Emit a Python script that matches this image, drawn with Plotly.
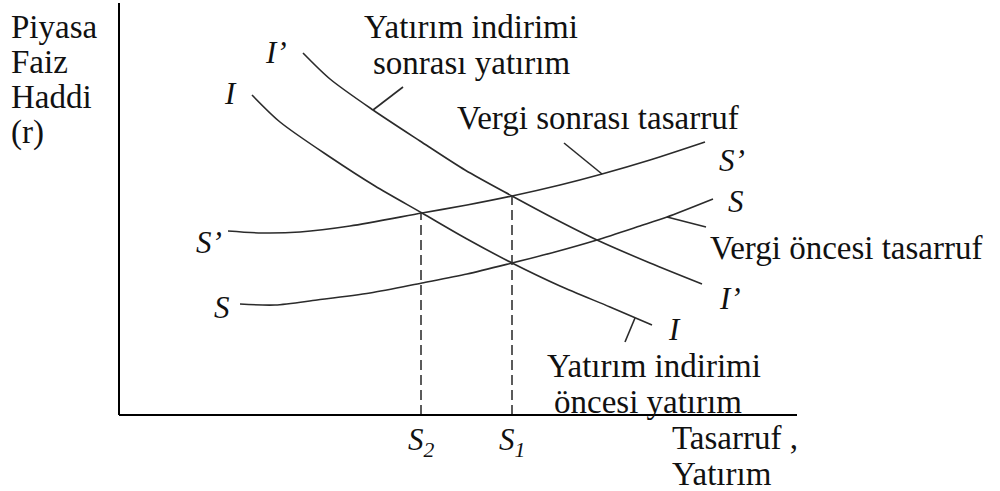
import plotly.graph_objects as go

# Curves of the saving-investment diagram (quantity on x, interest rate on y)
i_x = [133, 161, 211, 256, 303, 348, 393, 441, 491, 533]
i_y = [320, 293, 258, 229, 202, 176, 152, 129, 108, 90]

i2_x = [184, 211, 254, 301, 346, 393, 436, 478, 531, 583]
i2_y = [362, 336, 305, 274, 245, 219, 196, 175, 152, 131]

s2_x = [109, 143, 181, 231, 303, 348, 393, 441, 483, 531, 586]
s2_y = [184, 182, 183, 189, 202, 210, 219, 230, 241, 255, 273]

s_x = [121, 156, 198, 251, 303, 348, 393, 436, 478, 521, 548, 594]
s_y = [111, 110, 115, 122, 132, 141, 152, 163, 175, 189, 198, 216]

# Short pointer strokes linking captions to curves
lead_ip_x, lead_ip_y = [254, 284], [305, 328]
lead_sp_x, lead_sp_y = [483, 445], [241, 272]
lead_s_x, lead_s_y = [548, 587], [198, 188]
lead_i_x, lead_i_y = [516, 506], [97, 73]

# Equilibrium quantities and rates
eq_x = [302, 393]
eq_y = [202, 219]
eq_labels = ["<i>S</i><sub><i>2</i></sub>", "<i>S</i><sub><i>1</i></sub>"]

axis_x_end = 678
axis_y_end = 412

SERIF = "Liberation Serif"
CURVE = dict(color="#2b2b2b", width=1.6)

fig = go.Figure()

for xs, ys in [(i_x, i_y), (i2_x, i2_y), (s2_x, s2_y), (s_x, s_y)]:
    fig.add_trace(go.Scatter(x=xs, y=ys, mode="lines",
                             line=dict(shape="spline", smoothing=0.8, **CURVE),
                             hoverinfo="skip", showlegend=False))

for xs, ys in [(lead_ip_x, lead_ip_y), (lead_sp_x, lead_sp_y),
               (lead_s_x, lead_s_y), (lead_i_x, lead_i_y)]:
    fig.add_trace(go.Scatter(x=xs, y=ys, mode="lines", line=CURVE,
                             hoverinfo="skip", showlegend=False))

for qx, qy in zip(eq_x, eq_y):
    fig.add_trace(go.Scatter(x=[qx, qx], y=[0, qy], mode="lines",
                             line=dict(color="#333333", width=1.6, dash="10px,5px"),
                             hoverinfo="skip", showlegend=False))

# Axes
fig.add_trace(go.Scatter(x=[0, 0], y=[0, axis_y_end], mode="lines",
                         line=dict(color="black", width=2),
                         hoverinfo="skip", showlegend=False))
fig.add_trace(go.Scatter(x=[0, axis_x_end], y=[0, 0], mode="lines",
                         line=dict(color="black", width=2),
                         hoverinfo="skip", showlegend=False))


def text(x, y, s, size=33, anchor="center"):
    fig.add_annotation(x=x, y=y, text=s, showarrow=False, xref="x", yref="y",
                       xanchor=anchor, yanchor="middle",
                       font=dict(family=SERIF, size=size, color="#111111"))


# y-axis title
for k, line in enumerate(["Piyasa", "Faiz", "Haddi", "(r)"]):
    text(-110, 388 - 35 * k, line, anchor="left")

# x-axis title
text(551, -23, "Tasarruf ,", anchor="left")
text(551, -59, "Yatırım", anchor="left")

# captions
text(352, 388, "Yatırım indirimi")
text(352, 352, "sonrası yatırım")
text(479, 297, "Vergi sonrası tasarruf")
text(727, 167, "Vergi öncesi tasarruf")
text(535, 49, "Yatırım indirimi")
text(529, 13, "öncesi yatırım")

# curve end labels
text(157, 363, "<i>I’</i>", size=31)
text(111, 322, "<i>I</i>", size=31)
text(90, 173, "<i>S’</i>", size=31)
text(103, 108, "<i>S</i>", size=31)
text(613, 255, "<i>S’</i>", size=31)
text(617, 214, "<i>S</i>", size=31)
text(611, 117, "<i>I’</i>", size=31)
text(555, 86, "<i>I</i>", size=31)

for qx, lab in zip(eq_x, eq_labels):
    text(qx, -27, lab, size=31)

fig.update_layout(
    width=1000, height=491, autosize=False,
    margin=dict(l=0, r=0, t=0, b=0),
    paper_bgcolor="white", plot_bgcolor="white",
    xaxis=dict(range=[-119, 881], visible=False, fixedrange=True),
    yaxis=dict(range=[-76, 415], visible=False, fixedrange=True),
)

fig.write_html("out.html")
